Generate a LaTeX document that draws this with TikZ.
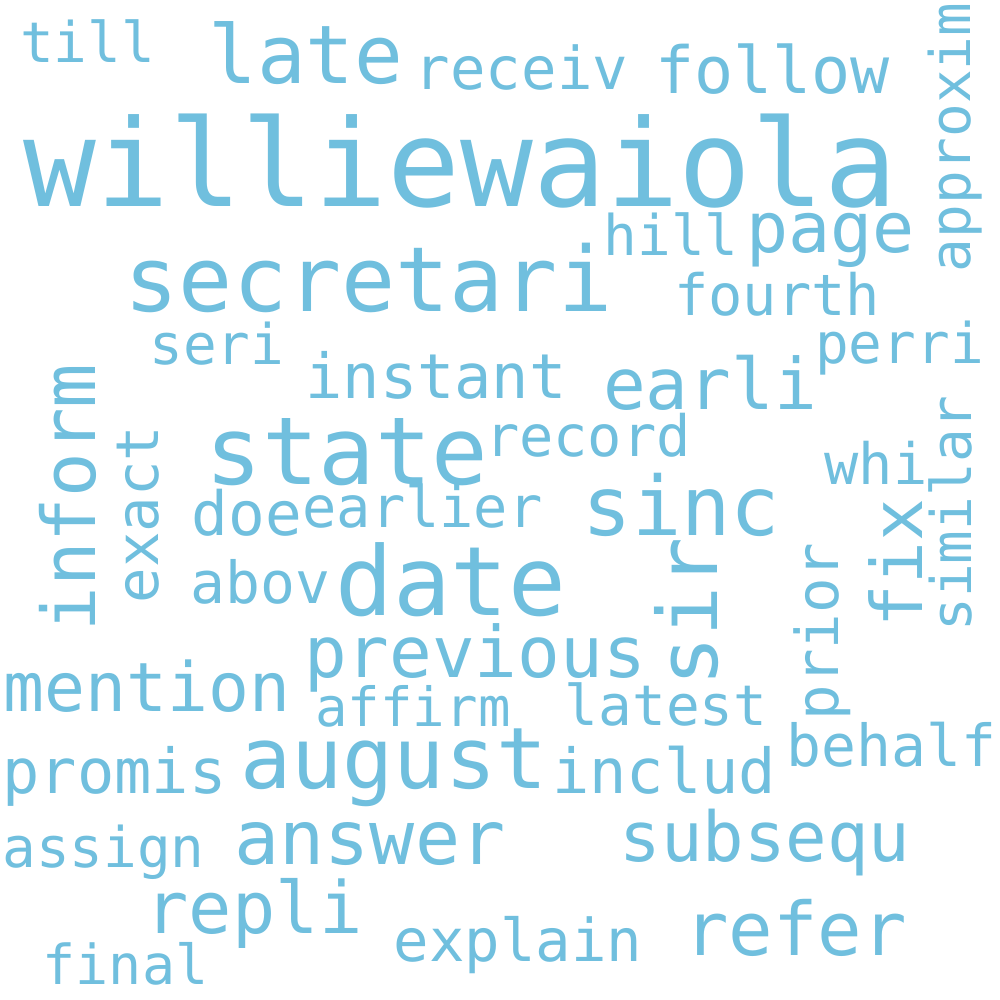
\documentclass[tikz,border=0pt]{standalone}
\usepackage{fontspec}
\setmonofont{DejaVu Sans Mono}
\definecolor{wc}{RGB}{112,191,222}
\tikzset{
  w/.style={inner sep=0pt, outer sep=0pt, anchor=base, text=wc, font=\ttfamily},
  v/.style={w, rotate=90}
}
\newcommand{\wsz}[1]{\fontsize{#1}{#1}\selectfont}
\begin{document}
\begin{tikzpicture}[x=1pt,y=-1pt]
\useasboundingbox[fill=white] (0,0) rectangle (1000,1000);
% horizontal words
\node[w] (till) at (87.5,63) {\wsz{56}till};
\node[w] (late) at (306,84) {\wsz{81}late};
\node[w] (receiv) at (521.5,90) {\wsz{59}receiv};
\node[w] (follow) at (772.5,94) {\wsz{65}follow};
\node[w] (williewaiola) at (460.5,207) {\wsz{121}williewaiola};
\node[w] (secretari) at (368.5,311) {\wsz{90}secretari};
\node[w] (hill) at (671,255) {\wsz{56}hill};
\node[w] (page) at (830.5,252) {\wsz{70}page};
\node[w] (fourth) at (777,315) {\wsz{57}fourth};
\node[w] (seri) at (217,364) {\wsz{56}seri};
\node[w] (perri) at (899.5,363) {\wsz{56}perri};
\node[w] (instant) at (436,398) {\wsz{62}instant};
\node[w] (earli) at (710,409) {\wsz{71}earli};
\node[w] (state) at (347,484) {\wsz{94}state};
\node[w] (record) at (588,456) {\wsz{57}record};
\node[w] (whi) at (876,484) {\wsz{57}whi};
\node[w] (doe) at (247,535) {\wsz{61}doe};
\node[w] (earlier) at (422.5,527) {\wsz{57}earlier};
\node[w] (sinc) at (681.5,535) {\wsz{82}sinc};
\node[w] (abov) at (260.5,603) {\wsz{58}abov};
\node[w] (date) at (451,615) {\wsz{96}date};
\node[w] (previous) at (475,677) {\wsz{71}previous};
\node[w] (mention) at (147,711) {\wsz{68}mention};
\node[w] (affirm) at (413,726) {\wsz{54}affirm};
\node[w] (latest) at (666,725) {\wsz{56}latest};
\node[w] (behalf) at (891.5,766) {\wsz{58}behalf};
\node[w] (august) at (394,788) {\wsz{85}august};
\node[w] (promis) at (114.5,793) {\wsz{62}promis};
\node[w] (includ) at (664,793) {\wsz{62}includ};
\node[w] (answer) at (370,864) {\wsz{75}answer};
\node[w] (subsequ) at (765,861) {\wsz{69}subsequ};
\node[w] (assign) at (103.5,867) {\wsz{56}assign};
\node[w] (repli) at (254,933) {\wsz{72}repli};
\node[w] (refer) at (795.5,955) {\wsz{74}refer};
\node[w] (explain) at (518,961) {\wsz{59}explain};
\node[w] (final) at (125.5,984) {\wsz{55}final};
% vertical words
\node[v] (approxim) at (970,137.5) {\wsz{56}approxim};
\node[v] (inform) at (95,497.5) {\wsz{74}inform};
\node[v] (exact) at (158,514.5) {\wsz{59}exact};
\node[v] (similar) at (971,513.5) {\wsz{56}similar};
\node[v] (fix) at (922,563) {\wsz{71}fix};
\node[v] (sir) at (717,612) {\wsz{83}sir};
\node[v] (prior) at (838,631.5) {\wsz{59}prior};
\end{tikzpicture}
\end{document}
